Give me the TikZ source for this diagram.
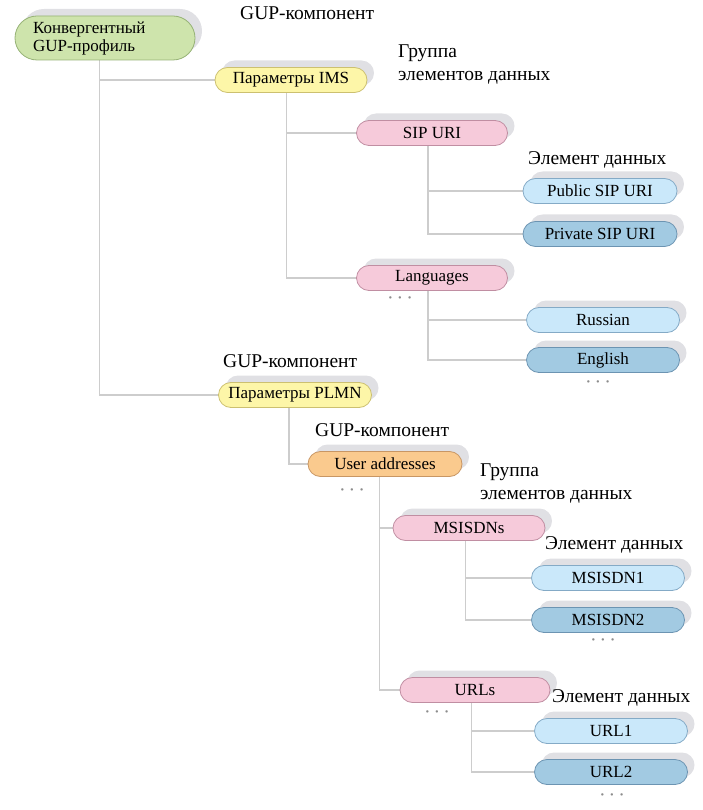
\documentclass[tikz,border=0pt]{standalone}
\usepackage{fontspec}
\setmainfont{Liberation Serif}
\usetikzlibrary{shadows,backgrounds}

\definecolor{shadowgray}{RGB}{224,224,228}
\definecolor{linegray}{RGB}{205,205,205}
\definecolor{dotgray}{RGB}{140,140,140}
\definecolor{greenfill}{RGB}{206,228,172}
\definecolor{greenline}{RGB}{150,178,118}
\definecolor{yellowfill}{RGB}{253,246,168}
\definecolor{yellowline}{RGB}{204,192,112}
\definecolor{pinkfill}{RGB}{246,202,218}
\definecolor{pinkline}{RGB}{192,142,162}
\definecolor{lbluefill}{RGB}{202,232,250}
\definecolor{lblueline}{RGB}{132,170,198}
\definecolor{dbluefill}{RGB}{162,202,226}
\definecolor{dblueline}{RGB}{108,148,178}
\definecolor{orangefill}{RGB}{250,202,142}
\definecolor{orangeline}{RGB}{200,150,100}

\tikzset{
  pill/.style={rounded corners=12.5pt, minimum height=25pt, minimum width=152pt,
    inner sep=0pt, line width=0.8pt, font=\fontsize{17}{19}\selectfont,
    general shadow={fill=shadowgray, shadow xshift=7pt, shadow yshift=7pt}},
  greenpill/.style={pill, fill=greenfill, draw=greenline},
  yellowpill/.style={pill, fill=yellowfill, draw=yellowline},
  pinkpill/.style={pill, fill=pinkfill, draw=pinkline},
  lbluepill/.style={pill, fill=lbluefill, draw=lblueline},
  dbluepill/.style={pill, fill=dbluefill, draw=dblueline},
  orangepill/.style={pill, fill=orangefill, draw=orangeline},
  conn/.style={draw=linegray, line width=1.6pt},
  lbl/.style={font=\fontsize{19.5}{23}\selectfont, inner sep=0pt, anchor=west, align=left},
  dots/.style={font=\fontsize{20}{20}\selectfont, text=dotgray, inner sep=0pt}
}

\begin{document}
\begin{tikzpicture}[x=1pt,y=-1pt]
\useasboundingbox (0,0) rectangle (702,810);

% profile root
\node[greenpill, text width=144pt, align=left, minimum height=44pt,
      rounded corners=22pt, inner xsep=18pt, font=\fontsize{17}{18}\selectfont] (root) at (105,38)
      {Конвергентный\\GUP-профиль};

% IMS branch
\node[yellowpill] (ims) at (291,80) {Параметры IMS};
\node[pinkpill, minimum width=151pt] (sip) at (432,133) {SIP URI};
\node[lbluepill, minimum width=154pt] (pub) at (600,191) {Public SIP URI};
\node[dbluepill, minimum width=154pt] (priv) at (600,234) {Private SIP URI};
\node[pinkpill, minimum width=151pt] (lang) at (432,278) {Languages};
\node[lbluepill, minimum width=153pt] (rus) at (603,320) {Russian};
\node[dbluepill, minimum width=153pt] (eng) at (603,360) {English};

% PLMN branch
\node[yellowpill, minimum width=153pt] (plmn) at (295,395) {Параметры PLMN};
\node[orangepill, minimum width=154pt] (ua) at (385,464) {User addresses};
\node[pinkpill, minimum width=152pt] (msisdns) at (469,528) {MSISDNs};
\node[lbluepill, minimum width=153pt] (ms1) at (608,578) {MSISDN1};
\node[dbluepill, minimum width=153pt] (ms2) at (608,620) {MSISDN2};
\node[pinkpill, minimum width=150pt] (urls) at (475,690) {URLs};
\node[lbluepill, minimum width=153pt] (url1) at (611,731) {URL1};
\node[dbluepill, minimum width=153pt] (url2) at (611,772) {URL2};

% level captions
\node[lbl] (cap1) at (240,13) {GUP-компонент};
\node[lbl] (cap2) at (398,65) {Группа\\элементов данных};
\node[lbl] (cap3) at (528,160) {Элемент данных};
\node[lbl] (cap4) at (223,361) {GUP-компонент};
\node[lbl] (cap5) at (315,430) {GUP-компонент};
\node[lbl] (cap6) at (480,483) {Группа\\элементов данных};
\node[lbl] (cap7) at (545,545) {Элемент данных};
\node[lbl] (cap8) at (552,698) {Элемент данных};

% continuation marks
\node[dots] (d1) at (400,301) {·\hspace{3pt}·\hspace{3pt}·};
\node[dots] (d2) at (598,385) {·\hspace{3pt}·\hspace{3pt}·};
\node[dots] (d3) at (352,493) {·\hspace{3pt}·\hspace{3pt}·};
\node[dots] (d4) at (603,643) {·\hspace{3pt}·\hspace{3pt}·};
\node[dots] (d5) at (437,715) {·\hspace{3pt}·\hspace{3pt}·};
\node[dots] (d6) at (612,798) {·\hspace{3pt}·\hspace{3pt}·};

% tree connectors
\begin{scope}[on background layer]
\draw[conn] ([xshift=85pt]root.south west) |- (ims.west);
\draw[conn] ([xshift=85pt]root.south west) |- (plmn.west);
\draw[conn] ([xshift=72pt]ims.south west) |- (sip.west);
\draw[conn] ([xshift=72pt]ims.south west) |- (lang.west);
\draw[conn] ([xshift=72pt]sip.south west) |- (pub.west);
\draw[conn] ([xshift=72pt]sip.south west) |- (priv.west);
\draw[conn] ([xshift=72pt]lang.south west) |- (rus.west);
\draw[conn] ([xshift=72pt]lang.south west) |- (eng.west);
\draw[conn] ([xshift=71pt]plmn.south west) |- (ua.west);
\draw[conn] ([xshift=72pt]ua.south west) |- (msisdns.west);
\draw[conn] ([xshift=72pt]ua.south west) |- (urls.west);
\draw[conn] ([xshift=73pt]msisdns.south west) |- (ms1.west);
\draw[conn] ([xshift=73pt]msisdns.south west) |- (ms2.west);
\draw[conn] ([xshift=72pt]urls.south west) |- (url1.west);
\draw[conn] ([xshift=72pt]urls.south west) |- (url2.west);
\end{scope}
\end{tikzpicture}
\end{document}
